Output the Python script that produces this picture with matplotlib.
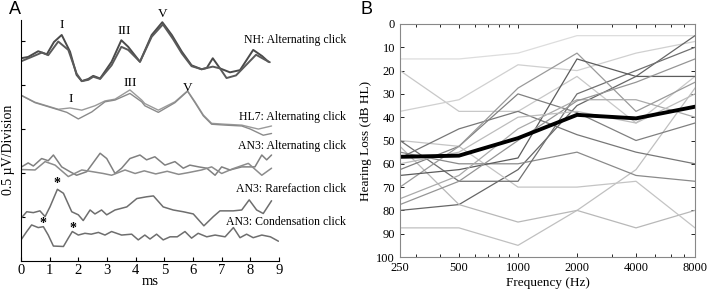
import matplotlib
matplotlib.use("Agg")
import matplotlib.pyplot as plt
from matplotlib.ticker import FixedLocator, NullFormatter, LogLocator

plt.rcParams['font.family'] = ['Liberation Serif', 'DejaVu Serif']

# ---- Panel A: ABR waveforms (time in ms, amplitude in divisions) ----
nh1_t = [0, 0.25, 0.6, 0.9, 1.15, 1.42, 1.71, 1.94, 2.12, 2.35, 2.52, 2.76, 3.16, 3.5, 3.74, 4.15,
         4.56, 4.93, 5.26, 5.61, 5.95, 6.3, 6.48, 6.69, 6.94, 7.29, 7.64, 8.1, 8.41, 8.63]
nh1_y = [4.61, 4.64, 4.77, 4.7, 4.98, 5.14, 4.76, 4.23, 4.09, 4.14, 4.21, 4.15, 4.53, 5.02, 4.87, 4.53,
         5.14, 5.43, 5.14, 4.76, 4.45, 4.36, 4.39, 4.61, 4.38, 4.29, 4.34, 4.8, 4.66, 4.53]
nh2_t = [0, 0.37, 0.73, 0.95, 1.3, 1.65, 1.94, 2.12, 2.35, 2.52, 2.76, 3.16, 3.5, 3.74, 4.15,
         4.56, 4.95, 5.3, 5.61, 5.95, 6.3, 6.69, 6.94, 7.17, 7.5, 8.2, 8.5, 8.68]
nh2_y = [4.54, 4.64, 4.74, 4.68, 4.99, 4.8, 4.26, 4.09, 4.12, 4.19, 4.14, 4.45, 4.87, 4.8, 4.53,
         5.1, 5.38, 5.05, 4.72, 4.43, 4.36, 4.42, 4.38, 4.16, 4.22, 4.69, 4.58, 4.52]

hl1_t = [0, 0.49, 1.3, 1.71, 2.12, 2.58, 2.93, 3.28, 3.8, 4.21, 4.32, 4.79, 5.37, 5.81, 6.07, 6.36,
         6.65, 7.12, 7.7, 8.28, 8.74]
hl1_y = [3.77, 3.61, 3.45, 3.48, 3.43, 3.53, 3.64, 3.68, 3.89, 3.66, 3.58, 3.43, 3.62, 3.87, 3.62, 3.32,
         3.13, 3.11, 3.09, 3.0, 3.07]
hl2_t = [0, 0.49, 1.3, 1.6, 2.0, 2.47, 2.93, 3.28, 3.8, 4.21, 4.32, 4.79, 5.37, 5.81, 6.07, 6.36,
         6.65, 7.12, 7.7, 8.0, 8.45, 8.74]
hl2_y = [3.77, 3.6, 3.44, 3.38, 3.23, 3.39, 3.62, 3.66, 3.81, 3.62, 3.53, 3.38, 3.6, 3.86, 3.6, 3.3,
         3.11, 3.09, 3.07, 3.0, 2.86, 2.9]

an_alt1_t = [0.02, 0.25, 0.43, 0.72, 0.95, 1.13, 1.42, 1.71, 1.94, 2.29, 2.76, 2.99, 3.28, 3.51, 3.8,
             4.15, 4.38, 4.67, 5.02, 5.37, 5.66, 5.89, 6.2, 6.48, 6.77, 7.0, 7.29, 7.7, 8.16, 8.4, 8.57, 8.74]
an_alt1_y = [2.14, 2.23, 2.16, 2.33, 2.28, 2.41, 2.14, 2.03, 1.95, 2.03, 2.45, 2.33, 1.99, 2.11, 2.33,
             2.41, 2.3, 2.37, 2.18, 2.26, 2.11, 2.18, 2.14, 2.11, 1.95, 2.14, 2.07, 2.14, 2.14, 2.41, 2.3, 2.41]
an_alt2_t = [0.02, 0.49, 0.84, 1.19, 1.65, 2.12, 2.5, 2.87, 3.16, 3.63, 3.98, 4.3, 4.7, 5.1, 5.5, 5.84,
             6.3, 6.65, 7.0, 7.4, 7.93, 8.4, 8.74]
an_alt2_y = [2.08, 2.07, 2.26, 2.18, 1.92, 2.07, 2.03, 1.99, 1.95, 2.07, 1.99, 2.05, 1.98, 2.04, 1.97, 2.01,
             2.07, 2.14, 1.99, 2.1, 2.22, 1.95, 2.11]

rare_t = [0, 0.2, 0.43, 0.66, 0.84, 1.01, 1.27, 1.48, 1.77, 2.0, 2.17, 2.41, 2.58, 2.81, 2.99, 3.28,
          3.69, 4.04, 4.38, 4.62, 4.96, 5.31, 5.66, 6.01, 6.38, 6.71, 6.94, 7.4, 7.7, 7.96, 8.22, 8.45, 8.74]
rare_y = [0.97, 1.12, 1.1, 1.14, 1.01, 1.23, 1.63, 1.54, 1.12, 1.05, 0.92, 1.16, 1.07, 1.16, 1.05, 1.16,
          1.23, 1.42, 1.46, 1.48, 1.23, 1.16, 1.12, 1.07, 0.8, 1.01, 1.14, 1.14, 1.16, 1.39, 1.16, 1.08, 1.37]

cond_t = [0, 0.2, 0.37, 0.6, 0.78, 0.95, 1.13, 1.48, 1.65, 1.79, 2.0, 2.23, 2.45, 2.7, 2.93, 3.16,
          3.51, 3.86, 4.09, 4.32, 4.5, 4.73, 4.96, 5.2, 5.45, 5.72, 5.95, 6.18, 6.48, 6.77, 7.12, 7.41,
          7.64, 7.87, 8.1, 8.4, 8.7, 8.98]
cond_y = [0.48, 0.67, 0.82, 0.76, 0.78, 0.59, 0.34, 0.33, 0.52, 0.67, 0.59, 0.63, 0.61, 0.65, 0.59, 0.67,
          0.59, 0.61, 0.48, 0.59, 0.5, 0.61, 0.48, 0.55, 0.55, 0.67, 0.52, 0.63, 0.55, 0.59, 0.55, 0.76,
          0.53, 0.61, 0.53, 0.59, 0.55, 0.45]

trace_names = ["NH: Alternating click", "HL7: Alternating click", "AN3: Alternating click",
               "AN3: Rarefaction click", "AN3: Condensation click"]
trace_name_y = [5.02, 3.27, 2.61, 1.64, 0.89]

peak_labels = ["I", "III", "V", "I", "III", "V"]
peak_t = [1.43, 3.59, 4.95, 1.74, 3.8, 5.82]
peak_y = [5.36, 5.23, 5.61, 3.68, 4.05, 3.93]
star_t = [1.26, 0.77, 1.81]
star_y = [1.77, 0.86, 0.75]

# ---- Panel B: audiograms ----
freqs = [250, 500, 1000, 2000, 4000, 8000]
freq_labels = ["250", "500", "1000", "2000", "4000", "8000"]
subjects = [
    [15, 15, 12.5, 5, 5, 5],
    [20, 37.5, 37.5, 22.5, 42.5, 22.5],
    [37.5, 32.5, 17.5, 20, 12.5, 7.5],
    [80, 77.5, 62.5, 35, 22.5, 5],
    [87.5, 87.5, 95, 80, 62.5, 27.5],
    [52.5, 77.5, 85, 80, 87.5, 80],
    [50, 52.5, 70, 70, 67.5, 87.5],
    [55, 60, 60, 55, 65, 67.5],
    [50, 67.5, 67.5, 30, 20, 10],
    [57.5, 45, 37.5, 47.5, 55, 60],
    [62.5, 52.5, 30, 38, 50, 42.5],
    [70, 52.5, 27.5, 12.5, 37.5, 25],
    [65, 62.5, 57.5, 15, 22.5, 22.5],
    [75, 65, 45, 32.5, 32.5, 40],
    [77.5, 67.5, 50, 33, 25, 15],
    [60, 55, 40, 37.5, 42.5, 30],
]
subject_grey = ["#dddddd", "#c8c8c8", "#d0d0d0", "#666666", "#c0c0c0", "#b8b8b8", "#c4c4c4", "#8a8a8a",
                "#707070", "#777777", "#808080", "#9a9a9a", "#5c5c5c", "#aaaaaa", "#959595", "#bdbdbd"]
mean_loss = [57, 56.5, 49, 39, 40.5, 35.5]

W, H = 709, 291
fig = plt.figure(figsize=(W / 100, H / 100), dpi=100)

# Panel A
axA = fig.add_axes([21 / W, 1 - 261 / H, 258 / W, 241 / H])
line_kw = dict(solid_joinstyle="round", solid_capstyle="round")
axA.plot(nh1_t, nh1_y, color="#4a4a4a", lw=1.4, **line_kw)
axA.plot(nh2_t, nh2_y, color="#5a5a5a", lw=1.4, **line_kw)
axA.plot(hl1_t, hl1_y, color="#9a9a9a", lw=1.0, **line_kw)
axA.plot(hl2_t, hl2_y, color="#8a8a8a", lw=1.0, **line_kw)
axA.plot(an_alt1_t, an_alt1_y, color="#808080", lw=1.1, **line_kw)
axA.plot(an_alt2_t, an_alt2_y, color="#8c8c8c", lw=1.1, **line_kw)
axA.plot(rare_t, rare_y, color="#6e6e6e", lw=1.1, **line_kw)
axA.plot(cond_t, cond_y, color="#6e6e6e", lw=1.1, **line_kw)
for name, y in zip(trace_names, trace_name_y):
    axA.text(11.35, y, name, ha="right", va="center", fontsize=8.5, clip_on=False)
for lab, t, y in zip(peak_labels, peak_t, peak_y):
    axA.text(t, y, lab, ha="center", va="center", fontsize=9.5)
for t, y in zip(star_t, star_y):
    axA.text(t, y, "*", ha="center", va="center", fontsize=10, fontweight="bold")
axA.set_xlim(0, 9)
axA.set_ylim(0, 5.48)
axA.set_xticks(range(10))
axA.set_yticks([1, 2, 3, 4, 5])
axA.set_yticklabels([])
axA.tick_params(direction="in", length=3, labelsize=10.5, width=0.8, pad=2)
axA.spines["top"].set_visible(False)
axA.spines["right"].set_visible(False)
axA.set_xlabel("ms", fontsize=10.5, labelpad=-1)
fig.text(9 / W, 1 - 150 / H, "0.5 \u00b5V/Division", rotation=90, fontsize=10,
         ha="center", va="center")

# Panel B
axB = fig.add_axes([400 / W, 1 - 257 / H, 295 / W, 233 / H])
for vals, c in zip(subjects, subject_grey):
    axB.plot(freqs, vals, color=c, lw=0.9)
axB.plot(freqs, mean_loss, color="black", lw=2.8)
axB.set_xscale("log")
axB.set_xlim(250, 8000)
axB.set_ylim(100, 0)
axB.xaxis.set_major_locator(FixedLocator(freqs))
axB.set_xticklabels(freq_labels)
axB.xaxis.set_minor_locator(LogLocator(base=10, subs=range(2, 10)))
axB.xaxis.set_minor_formatter(NullFormatter())
axB.set_yticks(range(0, 101, 10))
axB.tick_params(which="both", direction="in", top=True, right=True, labelsize=9, width=0.6)
axB.tick_params(which="major", length=3)
axB.tick_params(which="minor", length=2)
for s in axB.spines.values():
    s.set_color("#888888")
    s.set_linewidth(0.8)
axB.set_xlabel("Frequency (Hz)", fontsize=9.5, labelpad=2)
axB.set_ylabel("Hearing Loss (dB HL)", fontsize=9.5, labelpad=3)

fig.text(15 / W, 1 - 10 / H, "A", family="Liberation Sans", fontsize=13, ha="center", va="center")
fig.text(366 / W, 1 - 9 / H, "B", family="Liberation Sans", fontsize=13, ha="center", va="center")

fig.savefig("out.png", dpi=100)
